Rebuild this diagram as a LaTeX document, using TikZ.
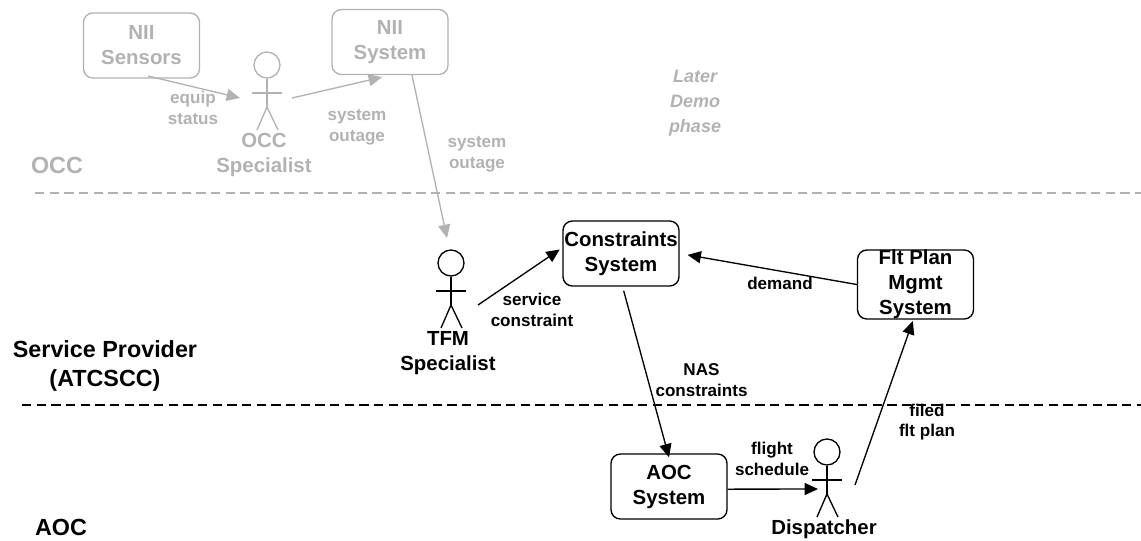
\documentclass[tikz,border=0pt]{standalone}
\usepackage{fontspec}
\setmainfont{Liberation Sans}
\usetikzlibrary{arrows.meta}
\definecolor{latergray}{HTML}{B2B2B2}
\tikzset{
	sysbox/.style={draw, line width=1pt, rounded corners=7pt, minimum width=87pt, minimum height=48.75pt, inner sep=0pt, align=center, font=\fontsize{15.3}{18.75}\selectfont\bfseries},
	flowlabel/.style={align=center, inner sep=0pt, font=\fontsize{12.8}{15.5}\selectfont\bfseries},
	actorname/.style={align=center, inner sep=0pt, font=\fontsize{15.3}{18.75}\selectfont\bfseries},
	lanename/.style={align=center, inner sep=0pt, font=\fontsize{17.5}{22}\selectfont\bfseries},
	flow/.style={->, line width=1pt},
	lanerule/.style={line width=1pt, dash pattern=on 7pt off 4pt},
	later/.style={color=latergray}
}
% stick figure: name, x, y of the head, style
\newcommand{\actorman}[4]{
	\begin{scope}[shift={(#2,#3)}, line width=1pt, #4]
		\node[draw, circle, inner sep=0pt, minimum size=19.5pt] (#1) at (0,0) {};
		\coordinate (#1 hip) at (0,42);
		\draw (#1.south)--(#1 hip);
		\draw (-15,28)--(15,28);
		\draw (-10,65)--(#1 hip)--(11,65);
	\end{scope}
}
\begin{document}
\begin{tikzpicture}[x=0.75pt,y=-0.75pt,>={Triangle[length=10pt,width=9pt]}, line join=round]
	\useasboundingbox (0,0) rectangle (1141,540);
	% lanes
	\coordinate (occ left) at (35,193);
	\coordinate (occ right) at (1141,193);
	\coordinate (aoc left) at (22,405);
	\coordinate (aoc right) at (1141,405);
	\draw[lanerule,later] (occ left)--(occ right);
	\draw[lanerule] (aoc left)--(aoc right);
	\node[lanename,later] (occlane) at (57,165) {OCC};
	\node[lanename] (splane) at (105,366) {Service Provider\\(ATCSCC)};
	\node[lanename] (aoclane) at (61,527) {AOC};
	\node[flowlabel,later,font=\fontsize{13.5}{18.75}\selectfont\bfseries\itshape] (demo) at (695,103) {Later\\Demo\\phase};
	% systems
	\node[sysbox,later] (sensors) at (141.5,45.5) {NII\\Sensors};
	\node[sysbox,later] (nii) at (390,42) {NII\\System};
	\node[sysbox] (constraints) at (621,253.5) {Constraints\\System};
	\node[sysbox] (fltplan) at (915.5,284.5) {Flt Plan\\Mgmt\\System};
	\node[sysbox] (aoc) at (669,486.5) {AOC\\System};
	% people
	\actorman{occ}{267}{65}{later}
	\actorman{tfm}{451}{263}{}
	\actorman{disp}{827}{452}{}
	\node[actorname,later] (occname) at (264,155) {OCC\\Specialist};
	\node[actorname] (tfmname) at (448,353) {TFM\\Specialist};
	\node[actorname] (dispname) at (824,529) {Dispatcher};
	% free ends beside the people
	\coordinate (occ in) at (240,98);
	\coordinate (occ out) at (292,98);
	\coordinate (tfm in) at (447,238);
	\coordinate (tfm out) at (478,305);
	\coordinate (disp in) at (818,489);
	\coordinate (disp out) at (855,485);
	% flows
	\draw[flow,later] ([xshift=5pt,yshift=2pt]sensors.south)--(occ in);
	\draw[flow,later] (occ out)--([xshift=-6pt,yshift=-1.5pt]nii.south);
	\draw[flow,later] ([xshift=16.5pt]nii.south)--(tfm in);
	\draw[flow] (tfm out)--([xshift=-2pt,yshift=3pt]constraints.west);
	\draw[flow,shorten >=6pt] (fltplan.west)--(constraints.east);
	\draw[flow] ([xshift=2pt,yshift=-3pt]constraints.south)--([yshift=-3pt]aoc.north);
	\draw[flow] ([yshift=-2pt]aoc.east)--(disp in);
	\draw[flow] (disp out)--([xshift=-2pt,yshift=-1pt]fltplan.south);
	% labels
	\node[flowlabel,later] (equip) at (193,108) {equip\\status};
	\node[flowlabel,later] (outage a) at (357,127) {system\\outage};
	\node[flowlabel,later] (outage b) at (477,154) {system\\outage};
	\node[flowlabel] (service) at (532,310) {service\\constraint};
	\node[flowlabel] (demand) at (780,283) {demand};
	\node[flowlabel] (nas) at (701.5,380) {NAS\\constraints};
	\node[flowlabel] (filed) at (927,422) {filed\\flt plan};
	\node[flowlabel] (schedule) at (772,459) {flight\\schedule};
\end{tikzpicture}
\end{document}
